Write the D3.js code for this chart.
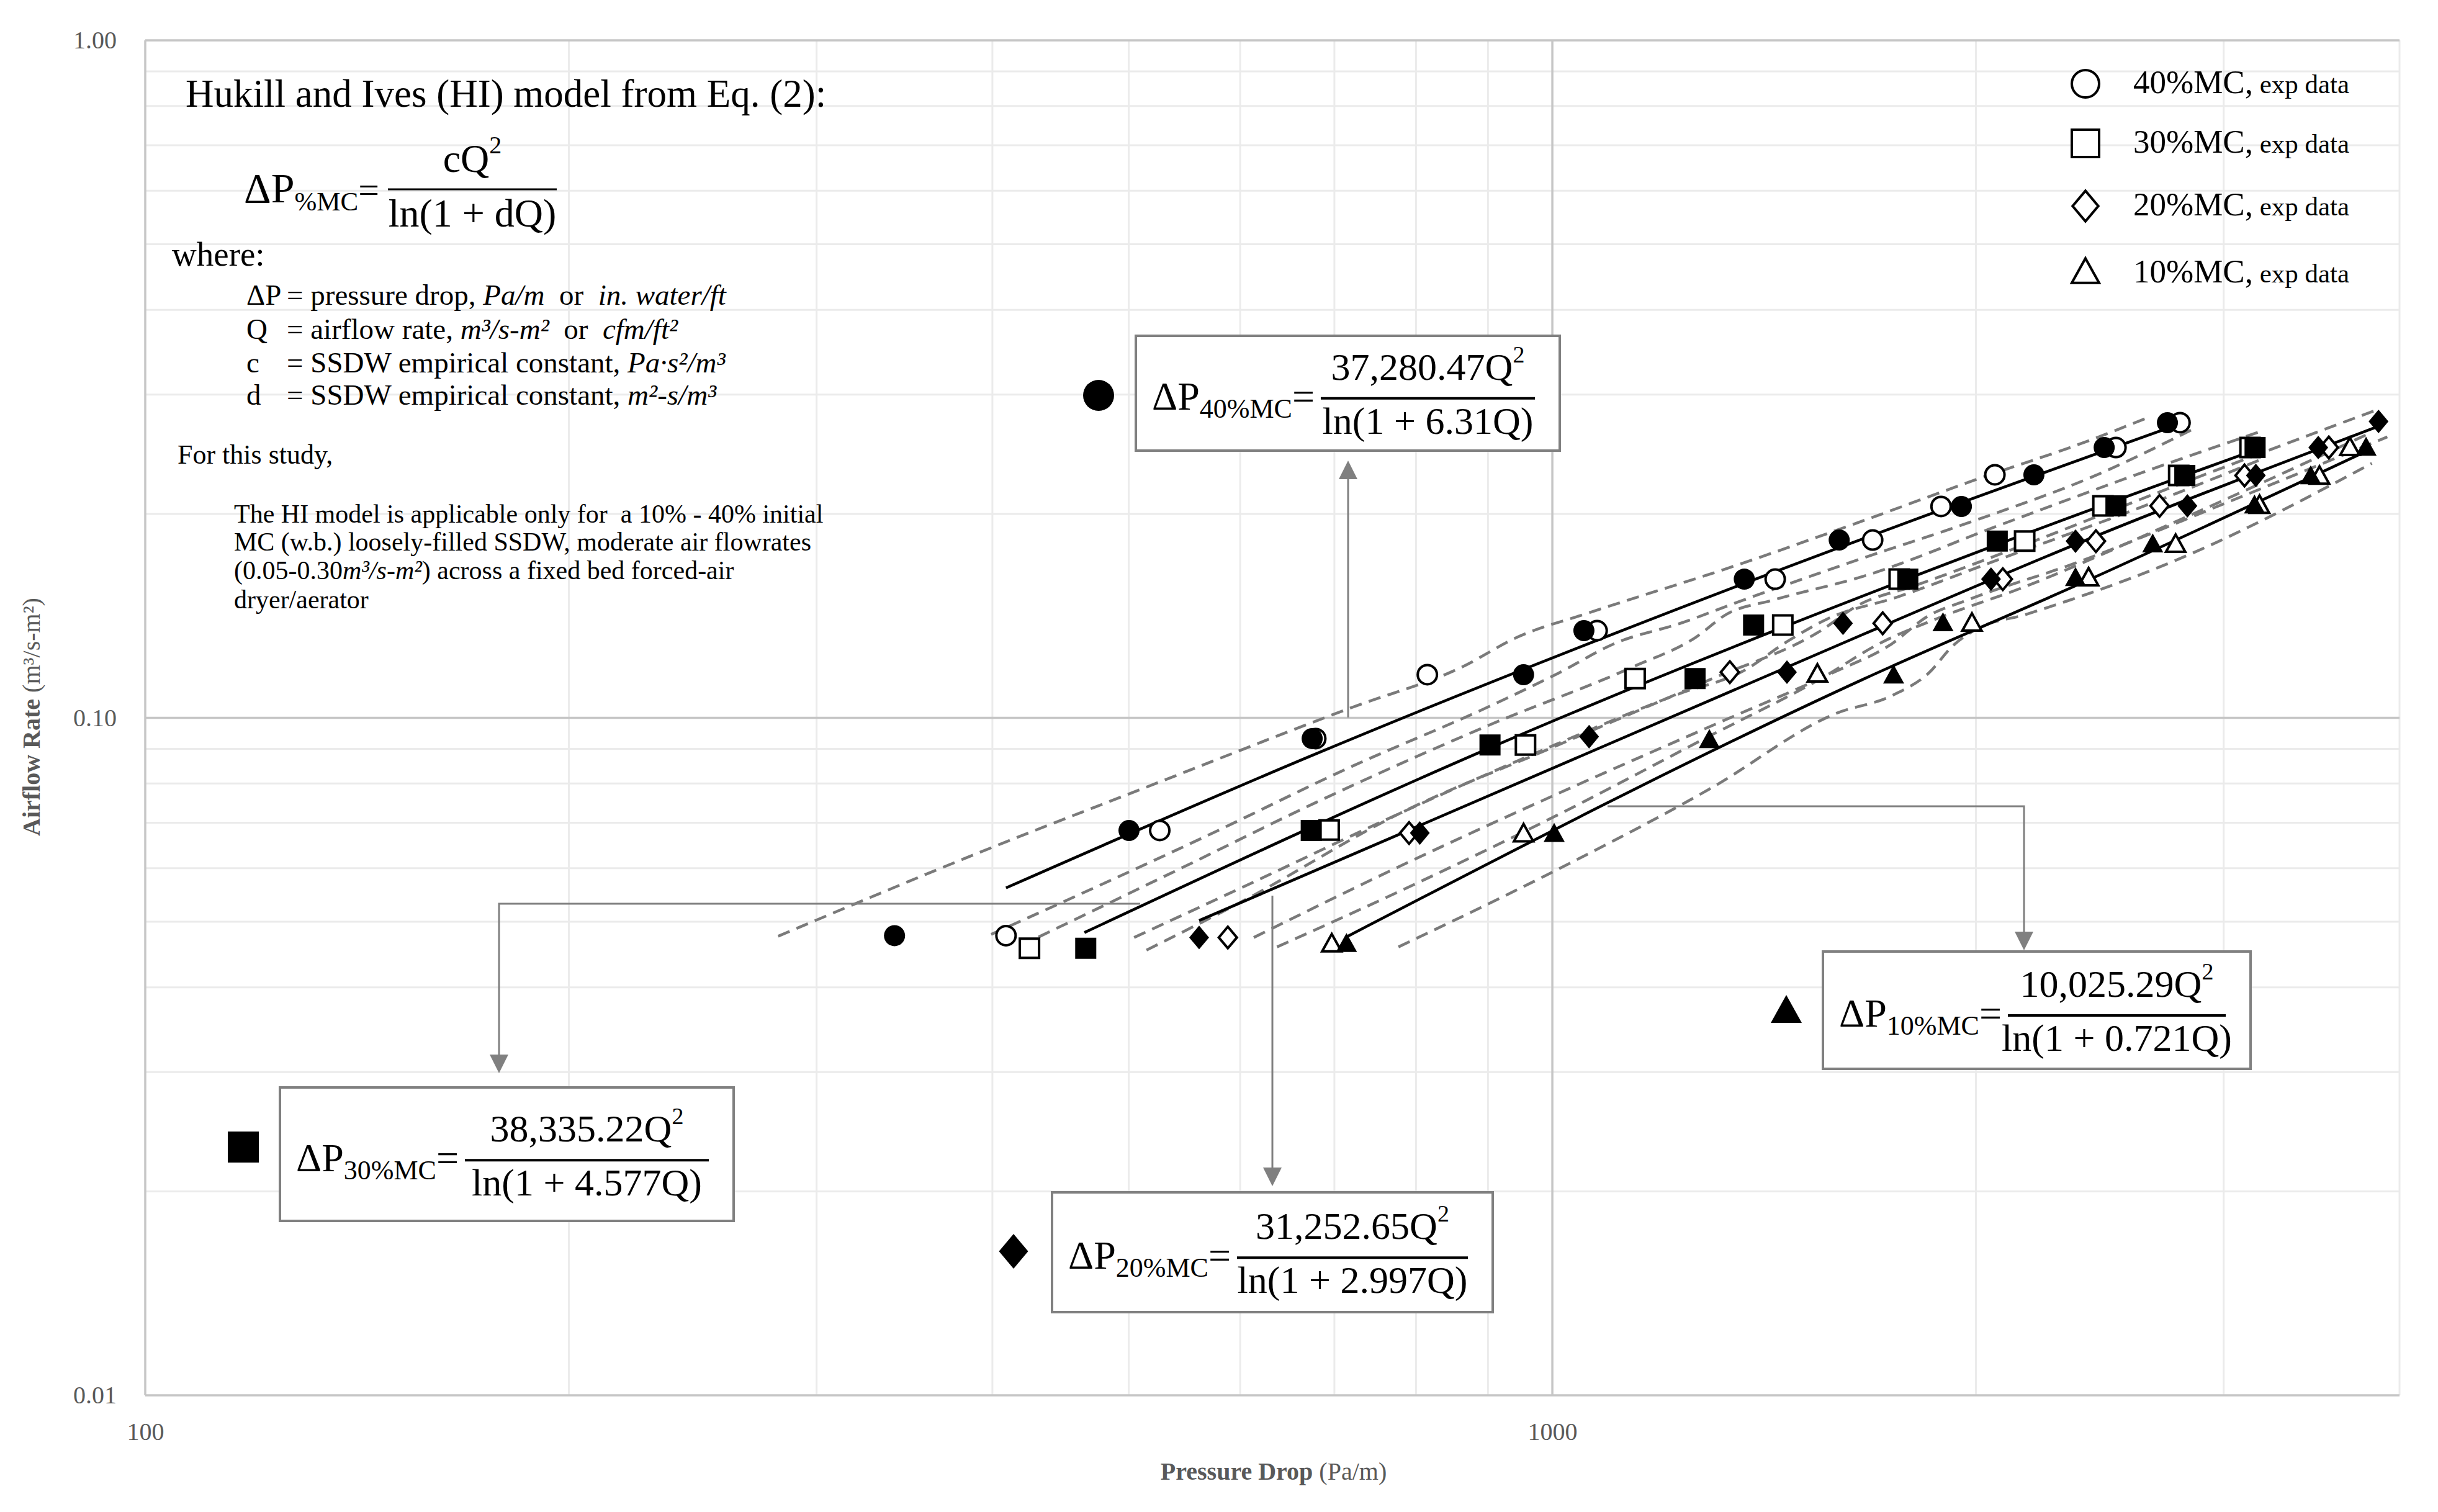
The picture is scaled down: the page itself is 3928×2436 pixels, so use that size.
<!DOCTYPE html>
<html>
<head>
<meta charset="utf-8">
<script src="https://cdn.jsdelivr.net/npm/d3@7"></script>
<style>
  body { margin: 0; background: #fff; }
  svg text { font-family: "Liberation Serif", "DejaVu Serif", serif; }
</style>
</head>
<body>
<div id="chart"></div>
<script>
// experimental (open) and HI-model (filled) points: [pressure drop Pa/m, airflow m3/s-m2]
const pred40 = [[340.8,0.0477],[500.2,0.0682],[675,0.0932],[954,0.1158],[1053,0.1345],[1369,0.1602],[1599,0.1830],[1953,0.2051],[2199,0.2284],[2467,0.2506],[2736,0.2727]];
const exp40  = [[409,0.0477],[526,0.0682],[679,0.0932],[815,0.1158],[1076,0.1345],[1440,0.1602],[1689,0.1830],[1889,0.2051],[2063,0.2284],[2515,0.2506],[2793,0.2727]];
const pred30 = [[466,0.0457],[674,0.0682],[903,0.0912],[1263,0.1143],[1390,0.1371],[1789,0.1602],[2071,0.1823],[2515,0.2055],[2815,0.2279],[3158,0.2506]];
const exp30  = [[425,0.0457],[694,0.0683],[957,0.0912],[1145,0.1143],[1458,0.1371],[1764,0.1602],[2166,0.1823],[2462,0.2055],[2787,0.2279],[3132,0.2506]];
const pred20 = [[561,0.0474],[805,0.0676],[1062,0.0938],[1468,0.1168],[1609,0.1379],[2050,0.1602],[2354,0.1823],[2827,0.2055],[3162,0.2279],[3502,0.2506],[3865,0.2738]];
const exp20  = [[588,0.0474],[791,0.0676],[1337,0.1168],[1717,0.1379],[2090,0.1602],[2434,0.1823],[2701,0.2055],[3104,0.2279],[3563,0.2506]];
const pred10 = [[714,0.0463],[1003,0.0673],[1293,0.0926],[1748,0.1153],[1895,0.1377],[2354,0.1606],[2671,0.1800],[3155,0.2055],[3459,0.2269],[3787,0.2501]];
const exp10  = [[697,0.0463],[954,0.0673],[1543,0.1158],[1987,0.1377],[2405,0.1606],[2773,0.1800],[3181,0.2055],[3509,0.2269],[3688,0.2501]];

// fitted HI curves (solid)
const fit40 = [[409,0.0561],[674,0.0879],[1371,0.1581],[2767,0.2697]];
const fit30 = [[465,0.0482],[903,0.0903],[2075,0.1805],[3191,0.2504]];
const fit20 = [[561,0.0502],[1663,0.1328],[2357,0.1805],[3871,0.2697]];
const fit10 = [[714,0.0475],[1663,0.1140],[2405,0.1598],[3813,0.2490]];

// dashed bands (upper / lower)
const band40U = [[281.7,0.0476],[402.2,0.0647],[505.7,0.0779],[720.5,0.1036],[862.9,0.1189],[943.3,0.1314],[1063,0.1430],[1357,0.1684],[1638,0.1932],[1993,0.2241],[2430,0.2585],[2643,0.2769]];
const band40L = [[399.2,0.0479],[564.1,0.0665],[720.5,0.0848],[903.3,0.1041],[1005,0.1158],[1113,0.1293],[1232,0.1378],[1357,0.1484],[1638,0.1703],[1993,0.1953],[2430,0.2277],[2853,0.2668]];
const band30U = [[418.9,0.0461],[545.8,0.0601],[679.2,0.0750],[903.3,0.0977],[1141,0.1189],[1264,0.1314],[1330,0.1422],[1435,0.1492],[1672,0.1623],[2075,0.1922],[2643,0.2313],[3199,0.2654]];
const band30L = [[504.4,0.0474],[604.2,0.0564],[779.4,0.0723],[1005,0.0913],[1232,0.1086],[1364,0.1170],[1472,0.1300],[1569,0.1400],[1759,0.1508],[2075,0.1712],[2643,0.2060],[3199,0.2413]];
const band20U = [[514.7,0.0454],[604.2,0.0538],[779.4,0.0723],[1005,0.0908],[1296,0.1140],[1549,0.1342],[1651,0.1468],[1805,0.1564],[2157,0.1795],[2781,0.2206],[3871,0.2858]];
const band20L = [[613.5,0.0474],[779.4,0.0604],[1005,0.0770],[1296,0.0972],[1589,0.1170],[1737,0.1280],[1851,0.1415],[1972,0.1492],[2357,0.1694],[3001,0.2070],[3921,0.2598]];
const band10U = [[637.3,0.0459],[779.4,0.0555],[1005,0.0716],[1296,0.0942],[1549,0.1140],[1715,0.1293],[1875,0.1400],[2157,0.1556],[2781,0.1953],[3823,0.2640]];
const band10L = [[777.4,0.0459],[1005,0.0595],[1296,0.0787],[1589,0.1014],[1746,0.1080],[1851,0.1164],[1928,0.1280],[1998,0.1349],[2173,0.1422],[2781,0.1712],[3823,0.2375]];

// axes
const xTicks = [100, 1000];
const yTicks = [0.01, 0.10, 1.00];
const xMinor = [200, 300, 400, 500, 600, 700, 800, 900, 2000, 3000, 4000];
const yMinor = [0.02, 0.03, 0.04, 0.05, 0.06, 0.07, 0.08, 0.09, 0.2, 0.3, 0.4, 0.5, 0.6, 0.7, 0.8, 0.9];

const legendLabels = ["40%MC,", "30%MC,", "20%MC,", "10%MC,"];
const shapes = ["circle", "square", "diamond", "triangle"];

const W = 3928, H = 2436;
const svg = d3.select("#chart").append("svg")
    .attr("width", W)
    .attr("height", H);

const x = d3.scaleLog().domain([100, 4000]).range([234, 3866]);
const y = d3.scaleLog().domain([0.01, 1]).range([2248, 65]);

// gridlines
const grid = svg.append("g");
grid.selectAll(".vmin").data(xMinor).enter().append("line")
    .attr("x1", d => x(d)).attr("x2", d => x(d))
    .attr("y1", y(1)).attr("y2", y(0.01))
    .style("stroke", "#ebebeb").style("stroke-width", 3);
grid.selectAll(".hmin").data(yMinor).enter().append("line")
    .attr("x1", x(100)).attr("x2", x(4000))
    .attr("y1", d => y(d)).attr("y2", d => y(d))
    .style("stroke", "#ebebeb").style("stroke-width", 3);
grid.selectAll(".vmaj").data(xTicks).enter().append("line")
    .attr("x1", d => x(d)).attr("x2", d => x(d))
    .attr("y1", y(1)).attr("y2", y(0.01))
    .style("stroke", "#c6c6c6").style("stroke-width", 3.5);
grid.selectAll(".hmaj").data(yTicks).enter().append("line")
    .attr("x1", x(100)).attr("x2", x(4000))
    .attr("y1", d => y(d)).attr("y2", d => y(d))
    .style("stroke", "#c6c6c6").style("stroke-width", 3.5);

// tick labels
const xAxis = svg.append("g")
    .attr("transform", `translate(0,${y(0.01)})`)
    .call(d3.axisBottom(x).tickValues(xTicks).tickFormat(d3.format("d")).tickSize(0).tickPadding(44));
const yAxis = svg.append("g")
    .attr("transform", `translate(${x(100)},0)`)
    .call(d3.axisLeft(y).tickValues(yTicks).tickFormat(d3.format(".2f")).tickSize(0).tickPadding(46));
[xAxis, yAxis].forEach(a => {
    a.select(".domain").remove();
    a.selectAll("text")
        .style("font-family", "Liberation Serif, serif")
        .style("font-size", "40px")
        .style("fill", "#595959");
});

// axis titles
svg.append("text")
    .attr("x", 2052).attr("y", 2384)
    .attr("text-anchor", "middle")
    .style("font-size", "40px").style("fill", "#595959")
    .call(t => {
        t.append("tspan").style("font-weight", "bold").text("Pressure Drop ");
        t.append("tspan").text("(Pa/m)");
    });
svg.append("text")
    .attr("transform", "translate(64,1155) rotate(-90)")
    .attr("text-anchor", "middle")
    .style("font-size", "40px").style("fill", "#595959")
    .call(t => {
        t.append("tspan").style("font-weight", "bold").text("Airflow Rate ");
        t.append("tspan").text("(m³/s-m²)");
    });

// marker shapes
function markerPath(type, s) {
    if (type === "circle") return d3.symbol(d3.symbolCircle, Math.PI * (s / 2) * (s / 2))();
    if (type === "square") return d3.symbol(d3.symbolSquare, s * s)();
    if (type === "diamond") {
        const w = s * 0.47, h = s * 0.56;
        return `M0,${-h}L${w},0L0,${h}L${-w},0Z`;
    }
    const h = s * 0.9;
    return `M0,${-h * 0.6}L${s / 2},${h * 0.4}L${-s / 2},${h * 0.4}Z`;
}

// bands
const curve = d3.line()
    .x(d => x(d[0]))
    .y(d => y(d[1]))
    .curve(d3.curveMonotoneX);

const plot = svg.append("g");
[band40U, band40L, band30U, band30L, band20U, band20L, band10U, band10L].forEach(b => {
    plot.append("path")
        .attr("d", curve(b))
        .style("fill", "none")
        .style("stroke", "#7a7a7a")
        .style("stroke-width", 4.5)
        .style("stroke-dasharray", "20,12");
});

[fit40, fit30, fit20, fit10].forEach(f => {
    plot.append("path")
        .attr("d", curve(f))
        .style("fill", "none")
        .style("stroke", "#000")
        .style("stroke-width", 4.5);
});

const series = [
    { exp: exp40, pred: pred40, shape: "circle" },
    { exp: exp30, pred: pred30, shape: "square" },
    { exp: exp20, pred: pred20, shape: "diamond" },
    { exp: exp10, pred: pred10, shape: "triangle" }
];
series.forEach(s => {
    plot.append("g").selectAll("path")
        .data(s.exp).enter().append("path")
        .attr("d", markerPath(s.shape, 31))
        .attr("transform", d => `translate(${x(d[0])},${y(d[1])})`)
        .style("fill", "#fff").style("stroke", "#000").style("stroke-width", 4);
    plot.append("g").selectAll("path")
        .data(s.pred).enter().append("path")
        .attr("d", markerPath(s.shape, 34))
        .attr("transform", d => `translate(${x(d[0])},${y(d[1])})`)
        .style("fill", "#000");
});

// legend
const legend = svg.append("g");
legendLabels.forEach((lab, i) => {
    const ly = [135, 231, 332, 440][i];
    legend.append("path")
        .attr("d", markerPath(shapes[i], 44))
        .attr("transform", `translate(3360,${ly})`)
        .style("fill", "#fff").style("stroke", "#000").style("stroke-width", 4);
    const t = legend.append("text")
        .attr("x", 3437).attr("y", ly + 15)
        .style("font-size", "53px");
    t.append("tspan").text(lab);
    t.append("tspan").style("font-size", "43px").text(" exp data");
});

// rich text helper
function rich(parent, px, py, parts, size, anchor) {
    const t = parent.append("text")
        .attr("x", px).attr("y", py)
        .attr("text-anchor", anchor || "start")
        .style("font-size", size + "px")
        .style("white-space", "pre");
    parts.forEach(p => {
        const s = typeof p === "string" ? { t: p } : p;
        const ts = t.append("tspan").text(s.t);
        if (s.i) ts.style("font-style", "italic");
        if (s.size) ts.style("font-size", s.size + "px");
        if (s.dy) ts.attr("dy", s.dy);
    });
    return t;
}

// model description
const note = svg.append("g");
rich(note, 299, 172, ["Hukill and Ives (HI) model from Eq. (2):"], 63);
rich(note, 393, 326, ["ΔP", { t: "%MC", size: 43, dy: 13 }, { t: "=", dy: -13, size: 60 }], 68);
note.append("line").attr("x1", 625).attr("x2", 897).attr("y1", 305).attr("y2", 305)
    .style("stroke", "#000").style("stroke-width", 3);
rich(note, 761, 277, ["cQ", { t: "2", size: 40, dy: -30 }], 64, "middle");
rich(note, 761, 365, ["ln(1 + dQ)"], 64, "middle");
rich(note, 277, 428, ["where:"], 55);
const defs = [
    ["ΔP", ["= pressure drop, ", { t: "Pa/m", i: true }, "  or  ", { t: "in. water/ft", i: true }]],
    ["Q", ["= airflow rate, ", { t: "m³/s-m²", i: true }, "  or  ", { t: "cfm/ft²", i: true }]],
    ["c", ["= SSDW empirical constant, ", { t: "Pa·s²/m³", i: true }]],
    ["d", ["= SSDW empirical constant, ", { t: "m²-s/m³", i: true }]]
];
defs.forEach((d, i) => {
    const by = [491, 546, 600, 652][i];
    rich(note, 397, by, [d[0]], 47);
    rich(note, 462, by, d[1], 47);
});
rich(note, 286, 747, ["For this study,"], 44);
rich(note, 377, 842, ["The HI model is applicable only for  a 10% - 40% initial"], 42);
rich(note, 377, 887, ["MC (w.b.) loosely-filled SSDW, moderate air flowrates"], 42);
rich(note, 377, 933, ["(0.05-0.30", { t: "m³/s-m²", i: true }, ") across a fixed bed forced-air"], 42);
rich(note, 377, 980, ["dryer/aerator"], 42);

// connector arrows
const arrows = [
    [[2172, 1156], [2172, 742]],
    [[1837, 1456], [804, 1456], [804, 1729]],
    [[2050, 1443], [2050, 1911]],
    [[2590, 1299], [3261, 1299], [3261, 1531]]
];
arrows.forEach(pts => {
    const n = pts.length;
    const tip = pts[n - 1], prev = pts[n - 2];
    const dir = Math.sign(tip[1] - prev[1]);
    const body = pts.slice(0, n - 1).concat([[tip[0], tip[1] - dir * 28]]);
    svg.append("path")
        .attr("d", d3.line()(body))
        .style("fill", "none").style("stroke", "#808080").style("stroke-width", 3);
    svg.append("path")
        .attr("d", `M${tip[0]},${tip[1]}L${tip[0] - 15},${tip[1] - dir * 30}L${tip[0] + 15},${tip[1] - dir * 30}Z`)
        .style("fill", "#808080");
});

// equation boxes
const boxes = [
    { x0: 1830, y0: 541, w: 683, h: 185, sub: "40%MC", num: "37,280.47Q", den: "ln(1 + 6.31Q)", shape: "circle", mx: 1770, my: 637 },
    { x0: 451, y0: 1752, w: 731, h: 215, sub: "30%MC", num: "38,335.22Q", den: "ln(1 + 4.577Q)", shape: "square", mx: 392, my: 1848 },
    { x0: 1695, y0: 1921, w: 710, h: 193, sub: "20%MC", num: "31,252.65Q", den: "ln(1 + 2.997Q)", shape: "diamond", mx: 1633, my: 2016 },
    { x0: 2937, y0: 1533, w: 689, h: 189, sub: "10%MC", num: "10,025.29Q", den: "ln(1 + 0.721Q)", shape: "triangle", mx: 2878, my: 1630 }
];
boxes.forEach(b => {
    const g = svg.append("g");
    g.append("rect")
        .attr("x", b.x0).attr("y", b.y0).attr("width", b.w).attr("height", b.h)
        .style("fill", "#fff").style("stroke", "#808080").style("stroke-width", 4);
    g.append("path")
        .attr("d", markerPath(b.shape, 50))
        .attr("transform", `translate(${b.mx},${b.my})`)
        .style("fill", "#000");
    const barY = b.y0 + b.h * 0.545;
    const lhs = rich(g, b.x0 + 26, barY + 18, ["ΔP", { t: b.sub, size: 44, dy: 13 }, { t: "=", dy: -13 }], 64);
    const x1 = b.x0 + 26 + lhs.node().getComputedTextLength() + 10;
    const x2 = b.x0 + b.w - 40;
    g.append("line").attr("x1", x1).attr("x2", x2).attr("y1", barY).attr("y2", barY)
        .style("stroke", "#000").style("stroke-width", 4);
    const cx = (x1 + x2) / 2;
    rich(g, cx, barY - 30, [b.num, { t: "2", size: 38, dy: -28 }], 62, "middle");
    rich(g, cx, barY + 57, [b.den], 62, "middle");
});
</script>
</body>
</html>
